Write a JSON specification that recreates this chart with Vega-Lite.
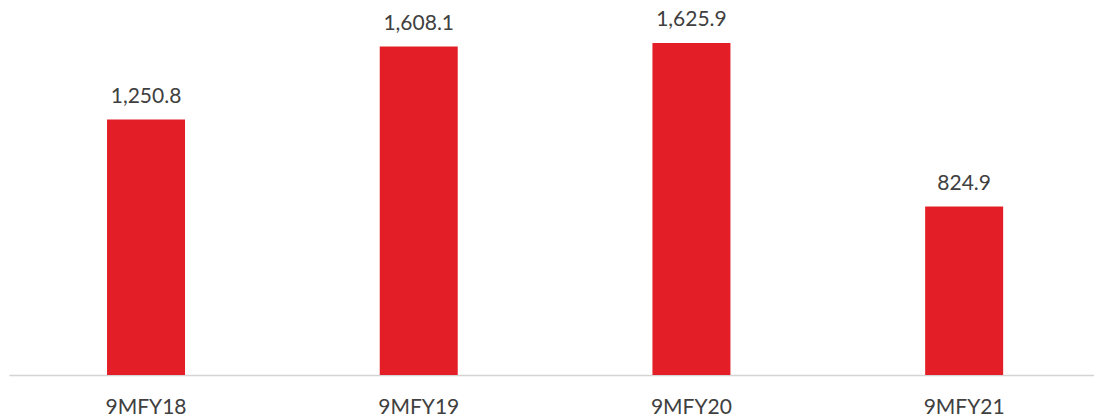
{
  "$schema": "https://vega.github.io/schema/vega-lite/v6.json",
  "autosize": {"type": "none"},
  "padding": {"left": 9, "top": 0, "right": 0, "bottom": 42},
  "width": 1085,
  "height": 375,
  "background": "#ffffff",
  "data": {"values": [
    {"period": "9MFY18", "value": 1250.8},
    {"period": "9MFY19", "value": 1608.1},
    {"period": "9MFY20", "value": 1625.9},
    {"period": "9MFY21", "value": 824.9}
  ]},
  "config": {"view": {"stroke": null}, "font": "Lato"},
  "encoding": {
    "x": {"field": "period", "type": "nominal", "sort": null,
      "scale": {"paddingInner": 0.714, "paddingOuter": 0.3463, "align": 0.519},
      "axis": {"title": null, "labelAngle": 0, "ticks": false, "tickSize": 0, "grid": false,
        "domainColor": "#d4d4d4", "domainWidth": 1.5,
        "labelFont": "Lato", "labelFontSize": 21, "labelColor": "#404040",
        "labelBaseline": "alphabetic", "labelPadding": 38}},
    "y": {"field": "value", "type": "quantitative",
      "scale": {"domain": [0, 1836], "nice": false, "zero": true},
      "axis": null}
  },
  "layer": [
    {"mark": {"type": "bar", "color": "#E41E26"}},
    {"mark": {"type": "text", "baseline": "alphabetic", "dy": -17, "font": "Lato", "fontSize": 21, "color": "#404040"},
      "encoding": {"text": {"field": "value", "type": "quantitative", "format": ",.1f"}}}
  ]
}
